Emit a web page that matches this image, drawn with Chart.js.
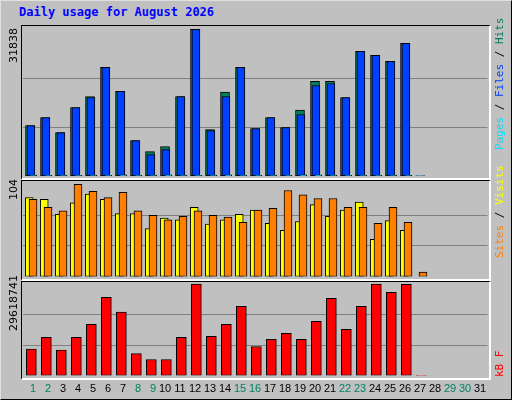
<!DOCTYPE html>
<html>
<head>
<meta charset="utf-8">
<script src="https://cdn.jsdelivr.net/npm/chart.js@4"></script>
<style>
  body { margin: 0; background: #fff; }
  #wrap { position: relative; width: 510px; height: 398px; background: #c0c0c0;
          border-top: 1px solid #e0e0e0; border-left: 1px solid #e0e0e0;
          border-right: 1px solid #000; border-bottom: 1px solid #000; overflow: hidden; }
  .panel { position: absolute; left: 20px; width: 470px; background: #c0c0c0;
           border-top: 1px solid #000; border-left: 1px solid #000;
           border-right: 2px solid #fff; border-bottom: 2px solid #fff; box-sizing: border-box; }
  canvas { position: absolute; left: -1px; top: -1px; }
  #title { position: absolute; left: 18px; top: 4px; font: bold 12px "DejaVu Sans Mono", monospace; color: #0000ff; }
</style>
</head>
<body>
<div id="wrap">
  <div id="title">Daily usage for August 2026</div>
  <div class="panel" style="top:24px;height:155px"></div>
  <div class="panel" style="top:179px;height:101px"></div>
  <div class="panel" style="top:280px;height:99px"></div>
  <canvas id="c1" width="512" height="400"></canvas>
  <canvas id="c2" width="512" height="400"></canvas>
  <canvas id="c3" width="512" height="400"></canvas>
</div>
<script>
const days = [];
for (let d = 1; d <= 31; d++) days.push(d);
const weekendDays = [1, 2, 8, 9, 15, 16, 22, 23, 29, 30];

const hits  = [10950, 12690, 9430, 14870, 17260, 23570, 18350, 7690, 5290, 6380, 17260, 31838, 10080, 18200,
               23570, 10300, 12690, 10520, 14290, 20520, 20520, 17040, 27050, 26180, 24870, 28790, 60];
const files = [10950, 12690, 9430, 14870, 17040, 23570, 18350, 7690, 4640, 5730, 17260, 31838, 9860, 17260,
               23570, 10300, 12690, 10520, 13340, 19650, 20080, 17040, 27050, 26180, 24870, 28790, 60];
const pages = [120, 120, 120, 120, 120, 120, 250, 120, 120, 250, 120, 120, 120, 250,
               120, 120, 120, 120, 250, 250, 120, 120, 120, 120, 120, 120, 0];
const visits = [89, 87, 70, 83, 93, 87, 71, 71, 54, 66, 64, 78, 59, 64,
                70, 75, 60, 52, 62, 81, 68, 75, 84, 42, 63, 52, 0];
const sites  = [87, 78, 74, 104, 96, 89, 95, 74, 69, 64, 68, 74, 69, 67,
                61, 75, 77, 97, 92, 88, 88, 78, 78, 60, 78, 61, 5];
const kbytes = [8540000, 12320000, 8220000, 12320000, 16540000, 25290000, 20540000, 7130000, 5190000, 5190000,
                12320000, 29618741, 12650000, 16540000, 22380000, 9400000, 11670000, 13620000, 11670000,
                17510000, 24970000, 14920000, 22380000, 29618741, 26920000, 29500000, 50000];

const maxHits = 31838, maxVisits = 104, maxKB = 29618741;

function pts(values, shift) {
    return values.map((v, i) => ({ x: days[i] + shift, y: v }));
}

function barSet(label, values, shift, color, thick, order) {
    return {
        label: label, data: pts(values, shift), backgroundColor: color, order: order,
        borderColor: '#000', borderWidth: 1, barThickness: thick, grouped: false,
        borderSkipped: false
    };
}

// vertical text label drawn on the canvas, reading bottom to top
function vText(ctx, x, yBottom, parts, font) {
    ctx.save();
    ctx.translate(x, yBottom);
    ctx.rotate(-Math.PI / 2);
    ctx.font = font;
    ctx.textBaseline = 'middle';
    let off = 0;
    parts.forEach(p => {
        ctx.fillStyle = p[1];
        ctx.fillText(p[0], off, 0);
        off += ctx.measureText(p[0]).width;
    });
    ctx.restore();
}

function makeChart(id, top, bottom, datasets, yMax, dataMax, extra) {
    new Chart(document.getElementById(id), {
        type: 'bar',
        data: { datasets: datasets },
        options: {
            responsive: false,
            animation: false,
            layout: { padding: { left: 22.5, right: 24.5, top: top, bottom: 400 - bottom } },
            plugins: { legend: { display: false }, tooltip: { enabled: false } },
            scales: {
                x: { type: 'linear', min: 0.5, max: 31.5, offset: false, display: false },
                y: {
                    min: 0, max: yMax, display: true,
                    border: { display: false },
                    grid: { color: '#808080', drawTicks: false },
                    ticks: { display: false, padding: 0 },
                    afterFit: s => { s.width = 0; },
                    afterBuildTicks: s => { s.ticks = [{ value: dataMax / 3 }, { value: dataMax * 2 / 3 }]; }
                }
            }
        },
        plugins: [{ id: 'labels', afterDraw: extra }]
    });
}

const mono = '11px "DejaVu Sans Mono", monospace';
const sans = '11px "DejaVu Sans", sans-serif';

makeChart('c1', 25, 176, [
    barSet('Hits', hits, 0, '#008060', 9, 3),
    barSet('Files', files, 0.06, '#0040ff', 8, 2),
    barSet('Pages', pages, 0.21, '#00e0ff', 7, 1)
], maxHits * 151 / 146.7, maxHits, chart => {
    vText(chart.ctx, 14, 63, [['31838', '#000']], sans);
    vText(chart.ctx, 500, 150, [['Pages', '#00e0ff'], [' / ', '#000'], ['Files', '#0040ff'], [' / ', '#000'], ['Hits', '#008060']], mono);
});

makeChart('c2', 181, 276.5, [
    barSet('Visits', visits, -0.05, '#ffff00', 8, 2),
    barSet('Sites', sites, 0.2, '#ff8000', 8, 1)
], maxVisits * 95.5 / 92.2, maxVisits, chart => {
    vText(chart.ctx, 14, 200, [['104', '#000']], sans);
    vText(chart.ctx, 500, 258, [['Sites', '#ff8000'], [' / ', '#000'], ['Visits', '#ffff00']], mono);
});

makeChart('c3', 282, 375.5, [
    barSet('KB', kbytes, 0.09, '#ff0000', 10, 1)
], maxKB * 93.5 / 91.5, maxKB, chart => {
    const ctx = chart.ctx;
    vText(ctx, 14, 331, [['29618741', '#000']], sans);
    vText(ctx, 500, 377, [['kB F', '#ff0000']], mono);
    const xs = chart.scales.x;
    ctx.save();
    ctx.font = '11px "Liberation Sans", sans-serif';
    ctx.textAlign = 'center';
    ctx.textBaseline = 'middle';
    days.forEach(d => {
        ctx.fillStyle = weekendDays.includes(d) ? '#008060' : '#000';
        ctx.fillText(String(d), xs.getPixelForValue(d) + (d < 10 ? 3 : 0), 389);
    });
    ctx.restore();
});
</script>
</body>
</html>
